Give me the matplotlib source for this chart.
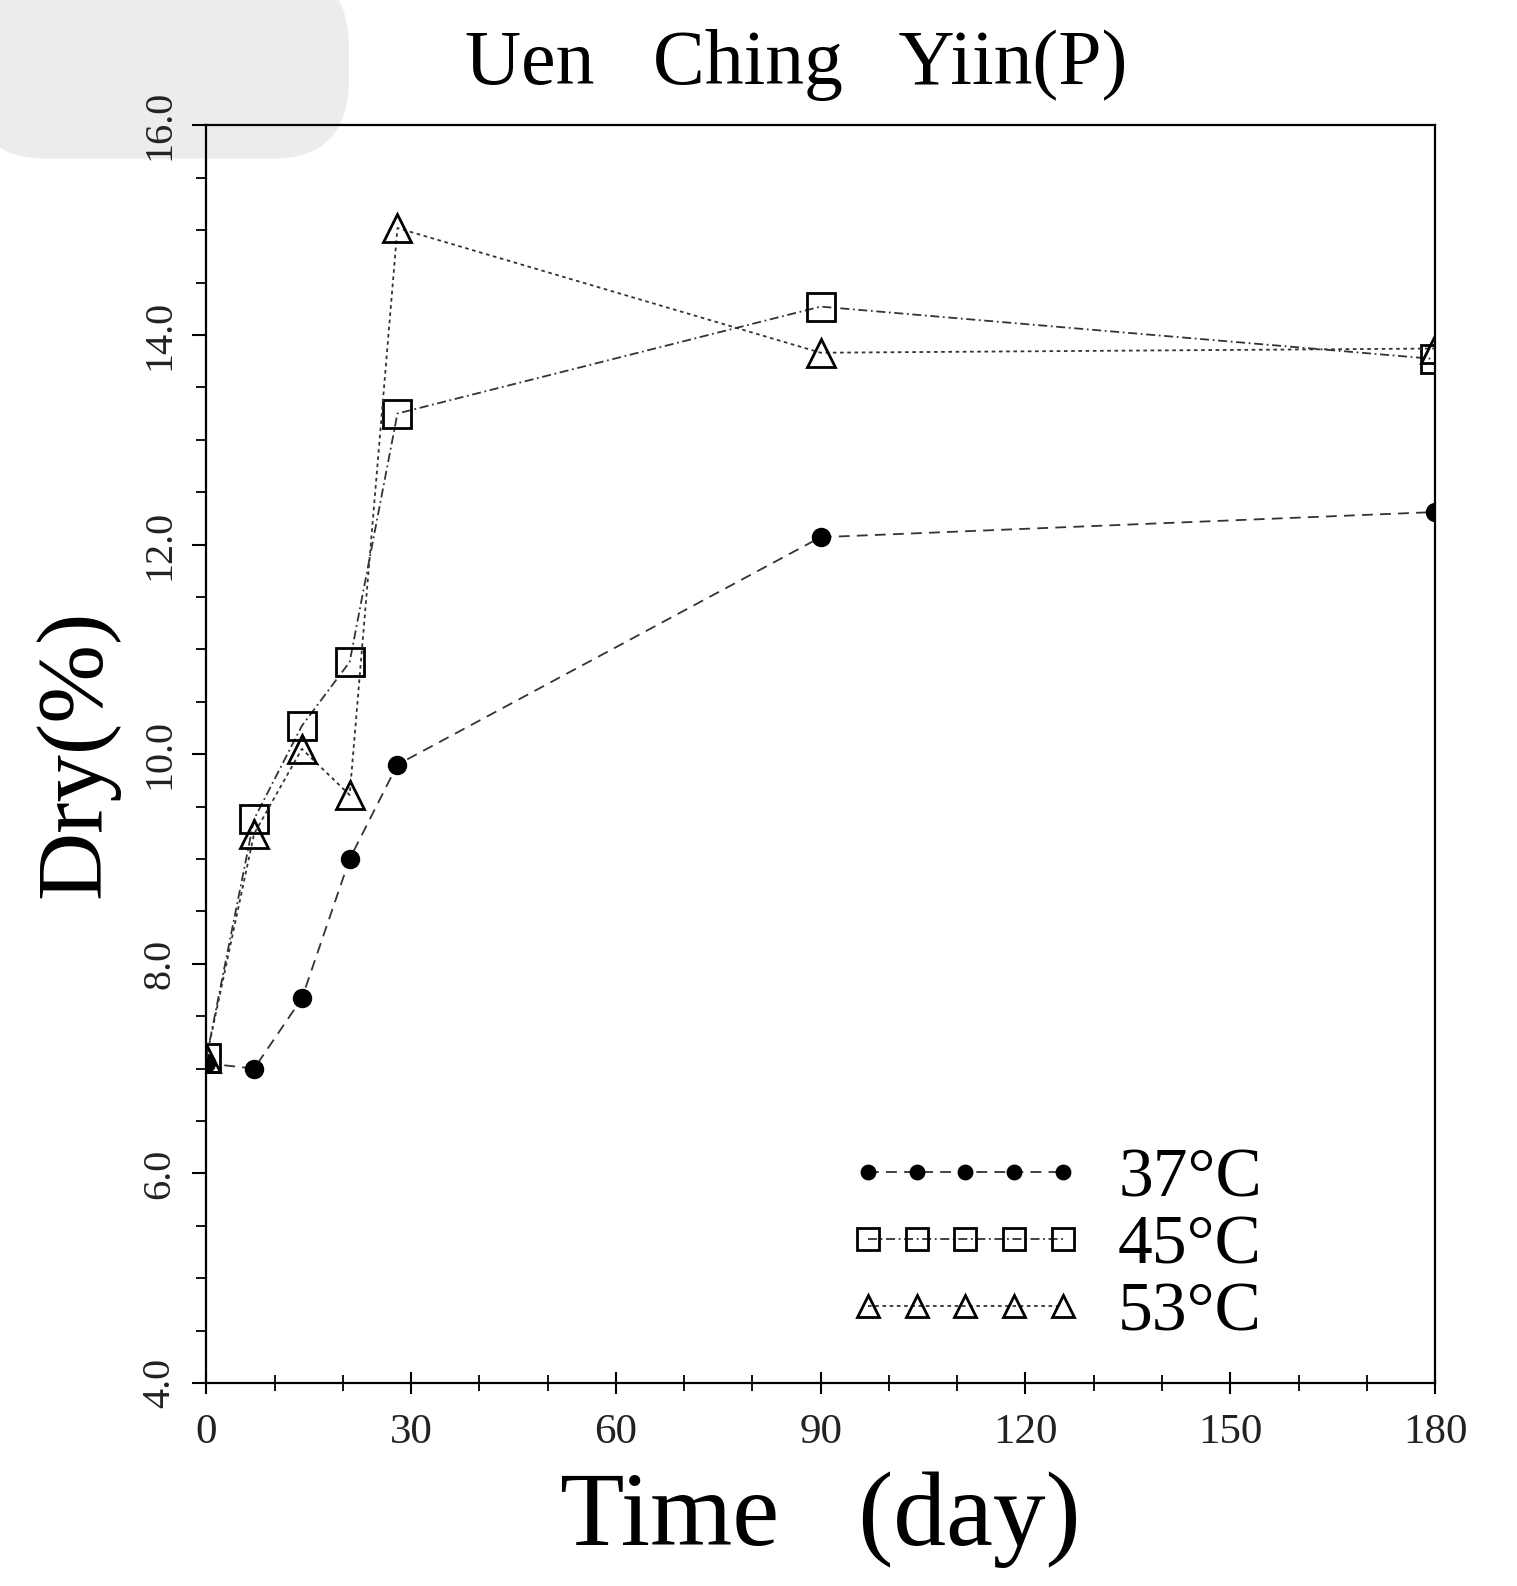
import matplotlib
matplotlib.use("Agg")
import matplotlib.pyplot as plt
from matplotlib.patches import FancyBboxPatch
from matplotlib.ticker import MultipleLocator, FormatStrFormatter

plt.rcParams['font.family'] = ['Liberation Serif', 'DejaVu Serif']

days = [0, 7, 14, 21, 28, 90, 180]
dry_37 = [7.05, 7.0, 7.67, 9.0, 9.9, 12.07, 12.31]
dry_45 = [7.1, 9.38, 10.27, 10.88, 13.25, 14.27, 13.77]
dry_53 = [7.1, 9.24, 10.05, 9.61, 15.02, 13.83, 13.87]
labels = ['37°C', '45°C', '53°C']
x_ticks = [0, 30, 60, 90, 120, 150, 180]
y_ticks = [4.0, 6.0, 8.0, 10.0, 12.0, 14.0, 16.0]

fig = plt.figure(figsize=(15.17, 15.86), dpi=100)

# faint grey smudge of the scan, top-left
fig.patches.append(FancyBboxPatch((-0.02, 0.90), 0.25, 0.12,
                                  boxstyle="round,pad=0,rounding_size=0.05",
                                  transform=fig.transFigure, facecolor='#ececec',
                                  edgecolor='none', zorder=0))

ax = fig.add_axes([0.136, 0.128, 0.81, 0.793])
ax.set_zorder(1)
ax.patch.set_alpha(0)

lc = '#333333'
ax.plot(days, dry_37, linestyle=(0, (6, 4)), color=lc, lw=1.3,
        marker='o', ms=13, mfc='black', mec='black', label=labels[0])
ax.plot(days, dry_45, linestyle=(0, (5, 2, 1, 2)), color=lc, lw=1.3,
        marker='s', ms=20, mfc='none', mec='black', mew=2, label=labels[1])
ax.plot(days, dry_53, linestyle=(0, (2, 2)), color=lc, lw=1.3,
        marker='^', ms=20, mfc='none', mec='black', mew=2, label=labels[2])

ax.set_xlim(0, 180)
ax.set_ylim(4, 16)
ax.set_xticks(x_ticks)
ax.set_xticklabels([str(t) for t in x_ticks])
ax.xaxis.set_minor_locator(MultipleLocator(10))
ax.set_yticks(y_ticks)
ax.yaxis.set_major_formatter(FormatStrFormatter('%.1f'))
ax.yaxis.set_minor_locator(MultipleLocator(0.5))

ax.tick_params(axis='x', which='major', direction='inout', length=16, width=1.5,
               labelsize=31, pad=14, labelcolor='#222222')
ax.tick_params(axis='x', which='minor', direction='inout', length=12, width=1.3)
ax.tick_params(axis='y', which='major', direction='out', length=10, width=1.5,
               labelsize=29, pad=10, labelrotation=90, labelcolor='#222222')
ax.tick_params(axis='y', which='minor', direction='out', length=7, width=1.3)
for lab in ax.get_yticklabels():
    lab.set_va('center')

for s in ax.spines.values():
    s.set_linewidth(1.6)

ax.set_title('Uen   Ching   Yiin(P)', fontsize=56, pad=30, x=0.48)
ax.set_xlabel('Time   (day)', fontsize=76, labelpad=14)
ax.set_ylabel('Dry(%)', fontsize=68, labelpad=16)

leg = ax.legend(loc='lower right', bbox_to_anchor=(0.91, -0.02), frameon=False,
                numpoints=5, fontsize=50, handlelength=3.4, handletextpad=0.5,
                labelspacing=0.05, markerscale=0.8)

fig.savefig('out.png', dpi=100)
